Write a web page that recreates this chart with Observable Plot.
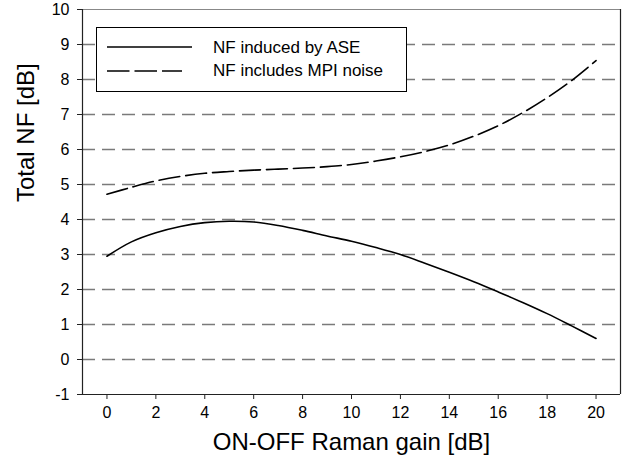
<!DOCTYPE html>
<html>
<head>
<meta charset="utf-8">
<script src="https://cdn.jsdelivr.net/npm/d3@7"></script>
<script src="https://cdn.jsdelivr.net/npm/@observablehq/plot@0.6"></script>
<style>
  html, body { margin: 0; padding: 0; background: #fff; }
  #wrap { position: relative; width: 633px; height: 468px; font-family: "Liberation Sans", Arial, sans-serif; }
  #legend { position: absolute; left: 96px; top: 27px; width: 311px; height: 65px; box-sizing: border-box;
    border: 1px solid #000; background: #fff; }
  #legend svg { position: absolute; left: 0; top: 0; }
  #legend .lab { position: absolute; left: 116px; font-size: 17px; color: #000; line-height: 20px; white-space: nowrap; }
</style>
</head>
<body>
<div id="wrap"></div>
<script>
// Data
const gain = [0, 1, 2, 3, 4, 5, 6, 7, 8, 9, 10, 11, 12, 13, 14, 15, 16, 17, 18, 19, 20];
const nfASE = [2.95, 3.36, 3.62, 3.8, 3.91, 3.95, 3.93, 3.83, 3.69, 3.53, 3.38, 3.2, 3.0, 2.75, 2.49, 2.22, 1.93, 1.63, 1.31, 0.96, 0.6];
const nfMPI = [4.72, 4.92, 5.1, 5.23, 5.32, 5.37, 5.41, 5.44, 5.47, 5.51, 5.57, 5.67, 5.79, 5.94, 6.13, 6.38, 6.68, 7.05, 7.48, 7.97, 8.54];
const seriesNames = ["NF induced by ASE", "NF includes MPI noise"];
const xTicks = [0, 2, 4, 6, 8, 10, 12, 14, 16, 18, 20];
const yTicks = [-1, 0, 1, 2, 3, 4, 5, 6, 7, 8, 9, 10];
const gridLines = [0, 1, 2, 3, 4, 5, 6, 7, 8, 9];
const xLabel = "ON-OFF Raman gain [dB]";
const yLabel = "Total NF [dB]";

const ase = gain.map((g, i) => ({x: g, y: nfASE[i]}));
const mpi = gain.map((g, i) => ({x: g, y: nfMPI[i]}));

const chart = Plot.plot({
  width: 633,
  height: 468,
  marginLeft: 82,
  marginRight: 13,
  marginTop: 9,
  marginBottom: 74,
  style: {fontFamily: "'Liberation Sans', Arial, sans-serif", fontSize: "16px", color: "#000", background: "#fff"},
  x: {domain: [-1, 21]},
  y: {domain: [-1, 10]},
  marks: [
    Plot.ruleY(gridLines, {stroke: "#7a7a7a", strokeWidth: 1.5, strokeDasharray: "13,7"}),
    Plot.line(ase, {x: "x", y: "y", stroke: "#000", strokeWidth: 1.6, curve: "catmull-rom"}),
    Plot.line(mpi, {x: "x", y: "y", stroke: "#000", strokeWidth: 1.6, strokeDasharray: "21,6", curve: "catmull-rom"}),
    Plot.ruleY([10], {stroke: "#888", strokeWidth: 1}),
    Plot.ruleX([21], {stroke: "#222", strokeWidth: 1.2}),
    Plot.ruleX([-1], {stroke: "#222", strokeWidth: 1.2}),
    Plot.ruleY([-1], {stroke: "#222", strokeWidth: 1.2}),
    Plot.axisX({ticks: xTicks, tickSize: 5, tickPadding: 7, label: null, tickFormat: d => String(d), stroke: "#222"}),
    Plot.axisY({ticks: yTicks, tickSize: 5, tickPadding: 8, label: null, tickFormat: d => String(d), stroke: "#222"}),
    Plot.text([xLabel], {frameAnchor: "bottom", dy: 55, fontSize: 24, fill: "#000"}),
    Plot.text([yLabel], {frameAnchor: "left", dx: -56, rotate: -90, fontSize: 24, fill: "#000"})
  ]
});

const wrap = document.getElementById("wrap");
wrap.appendChild(chart);

// Legend box
const legend = document.createElement("div");
legend.id = "legend";
legend.innerHTML = `
  <svg width="311" height="65">
    <line x1="10" x2="95" y1="19" y2="19" stroke="#000" stroke-width="1.6"></line>
    <line x1="10" x2="85" y1="43" y2="43" stroke="#000" stroke-width="1.6" stroke-dasharray="22.5,5"></line>
  </svg>
  <div class="lab" style="top:10px">${seriesNames[0]}</div>
  <div class="lab" style="top:33px">${seriesNames[1]}</div>`;
wrap.appendChild(legend);
</script>
</body>
</html>
